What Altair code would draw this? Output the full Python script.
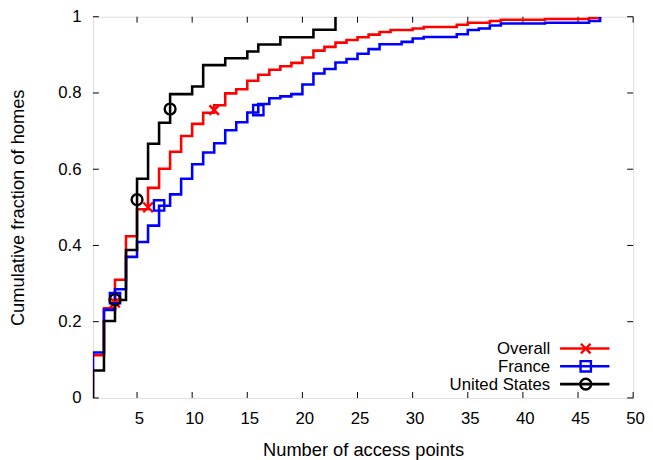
import altair as alt
import pandas as pd

# ---- data ----
series_names = ["Overall", "France", "United States"]
series_colors = ["#ff0000", "#0000ff", "#000000"]

overall_x = [1, 1, 2, 3, 4, 5, 6, 7, 8, 9, 10, 11, 12, 13, 14, 15, 16, 17, 18, 19, 20,
             21, 22, 23, 24, 25, 26, 27, 28, 30, 31, 34, 35, 37, 38, 42, 46, 47]
overall_y = [0, 0.112, 0.235, 0.31, 0.424, 0.495, 0.551, 0.601, 0.646, 0.687, 0.719, 0.748,
             0.768, 0.799, 0.81, 0.832, 0.848, 0.861, 0.87, 0.879, 0.893, 0.911, 0.921,
             0.932, 0.939, 0.946, 0.953, 0.96, 0.965, 0.969, 0.973, 0.979, 0.984, 0.989,
             0.992, 0.994, 0.997, 1.0]

france_x = [1, 1, 2, 3, 4, 5, 6, 7, 8, 9, 10, 11, 12, 13, 14, 15, 16, 17, 18, 19, 20,
            21, 22, 23, 24, 25, 26, 27, 29, 30, 31, 34, 35, 36, 37, 38, 42, 46, 47]
france_y = [0, 0.119, 0.231, 0.285, 0.37, 0.409, 0.452, 0.504, 0.534, 0.575, 0.613, 0.644,
            0.668, 0.702, 0.723, 0.749, 0.771, 0.786, 0.791, 0.797, 0.822, 0.851, 0.863,
            0.88, 0.889, 0.903, 0.915, 0.928, 0.934, 0.943, 0.947, 0.954, 0.965, 0.969,
            0.977, 0.982, 0.984, 0.989, 1.0]

us_x = [1, 1, 2, 3, 4, 5, 6, 7, 8, 10, 11, 13, 15, 16, 18, 21, 23]
us_y = [0, 0.072, 0.202, 0.257, 0.388, 0.575, 0.667, 0.722, 0.797, 0.817, 0.873, 0.891,
        0.909, 0.927, 0.946, 0.966, 1.0]

overall_mx = [3, 6, 12]
overall_my = [0.25, 0.5, 0.755]
france_mx = [3, 7, 16]
france_my = [0.262, 0.505, 0.755]
us_mx = [3, 5, 8]
us_my = [0.258, 0.52, 0.758]

x_ticks = [5, 10, 15, 20, 25, 30, 35, 40, 45, 50]
y_ticks = [0, 0.2, 0.4, 0.6, 0.8, 1.0]

# ---- styling ----
W, H = 547, 386
FONT = "Liberation Sans"
FS = 17
TFS = 18.5
X_PATH = "M-1,-1L1,1M-1,1L1,-1"
shapes = [X_PATH, "square", "circle"]
sizes = [95, 110, 120]

xs = alt.Scale(domain=[1, 50], nice=False, zero=False)
ys = alt.Scale(domain=[0, 1], nice=False, zero=False)

x_axis = alt.Axis(values=x_ticks, title="Number of access points", ticks=False, domain=False,
                  grid=False, labelPadding=13, labelOffset=2, labelFlush=False, labelOverlap=False,
                  labelFont=FONT, labelFontSize=FS, labelColor="black",
                  titleFont=FONT, titleFontSize=TFS, titleFontWeight="normal", titleColor="black",
                  titleX=W / 2, titleY=58, titleBaseline="alphabetic", titleAlign="center")
y_axis = alt.Axis(values=y_ticks, format="~g", title="Cumulative fraction of homes", ticks=False,
                  domain=False, grid=False, labelPadding=12, labelFlush=False, labelOverlap=False,
                  labelFont=FONT, labelFontSize=FS, labelColor="black",
                  titleFont=FONT, titleFontSize=TFS, titleFontWeight="normal", titleColor="black",
                  titleX=-70, titleY=H / 2, titleAngle=-90, titleBaseline="alphabetic",
                  titleAlign="center")

X = alt.X("x:Q", scale=xs, axis=x_axis)
Y = alt.Y("y:Q", scale=ys, axis=y_axis)

layers = []

# inward ticks (all four sides)
xt = pd.DataFrame({"x": x_ticks})
yt = pd.DataFrame({"y": y_ticks})
layers.append(alt.Chart(xt).mark_rule(color="black", strokeWidth=1).encode(
    x=X, y=alt.value(H), y2=alt.value(H - 6)))
layers.append(alt.Chart(xt).mark_rule(color="black", strokeWidth=1).encode(
    x=X, y=alt.value(0), y2=alt.value(6)))
layers.append(alt.Chart(yt).mark_rule(color="black", strokeWidth=1).encode(
    y=Y, x=alt.value(0), x2=alt.value(6)))
layers.append(alt.Chart(yt).mark_rule(color="black", strokeWidth=1).encode(
    y=Y, x=alt.value(W), x2=alt.value(W - 6)))

all_lines = [(overall_x, overall_y), (france_x, france_y), (us_x, us_y)]
all_marks = [(overall_mx, overall_my), (france_mx, france_my), (us_mx, us_my)]

for (lx, ly), col in zip(all_lines, series_colors):
    df = pd.DataFrame({"x": lx, "y": ly, "i": list(range(len(lx)))})
    layers.append(alt.Chart(df).mark_line(interpolate="step-after", color=col, strokeWidth=2.6,
                                          clip=True).encode(
        x=X, y=Y, order=alt.Order("i:Q")))

for (mx, my), col, shp, sz in zip(all_marks, series_colors, shapes, sizes):
    df = pd.DataFrame({"x": mx, "y": my})
    layers.append(alt.Chart(df).mark_point(shape=shp, filled=False, color=col, strokeWidth=2.4,
                                           size=sz, opacity=1).encode(x=X, y=Y))

# legend (bottom-right, inside the plot)
leg_y0, leg_dy = 336, 18
for k, (name, col, shp, sz) in enumerate(zip(series_names, series_colors, shapes, sizes)):
    yy = leg_y0 + k * leg_dy
    d = pd.DataFrame({"label": [name]})
    layers.append(alt.Chart(d).mark_text(align="right", baseline="middle", font=FONT,
                                         fontSize=FS, color="black").encode(
        text="label:N", x=alt.value(463), y=alt.value(yy + 1)))
    layers.append(alt.Chart(d).mark_rule(color=col, strokeWidth=2.6).encode(
        x=alt.value(473), x2=alt.value(523), y=alt.value(yy)))
    layers.append(alt.Chart(d).mark_point(shape=shp, filled=False, color=col, strokeWidth=2.4,
                                          size=sz, opacity=1).encode(
        x=alt.value(499), y=alt.value(yy)))

chart = alt.layer(*layers).properties(
    width=W, height=H,
    autosize=alt.AutoSizeParams(type="none"),
    padding={"left": 86, "top": 6, "right": 12, "bottom": 60},
).configure_view(stroke="black", strokeWidth=1.2).configure(background="white")

chart.save("out.html", embed_options={"renderer": "svg", "actions": False})
